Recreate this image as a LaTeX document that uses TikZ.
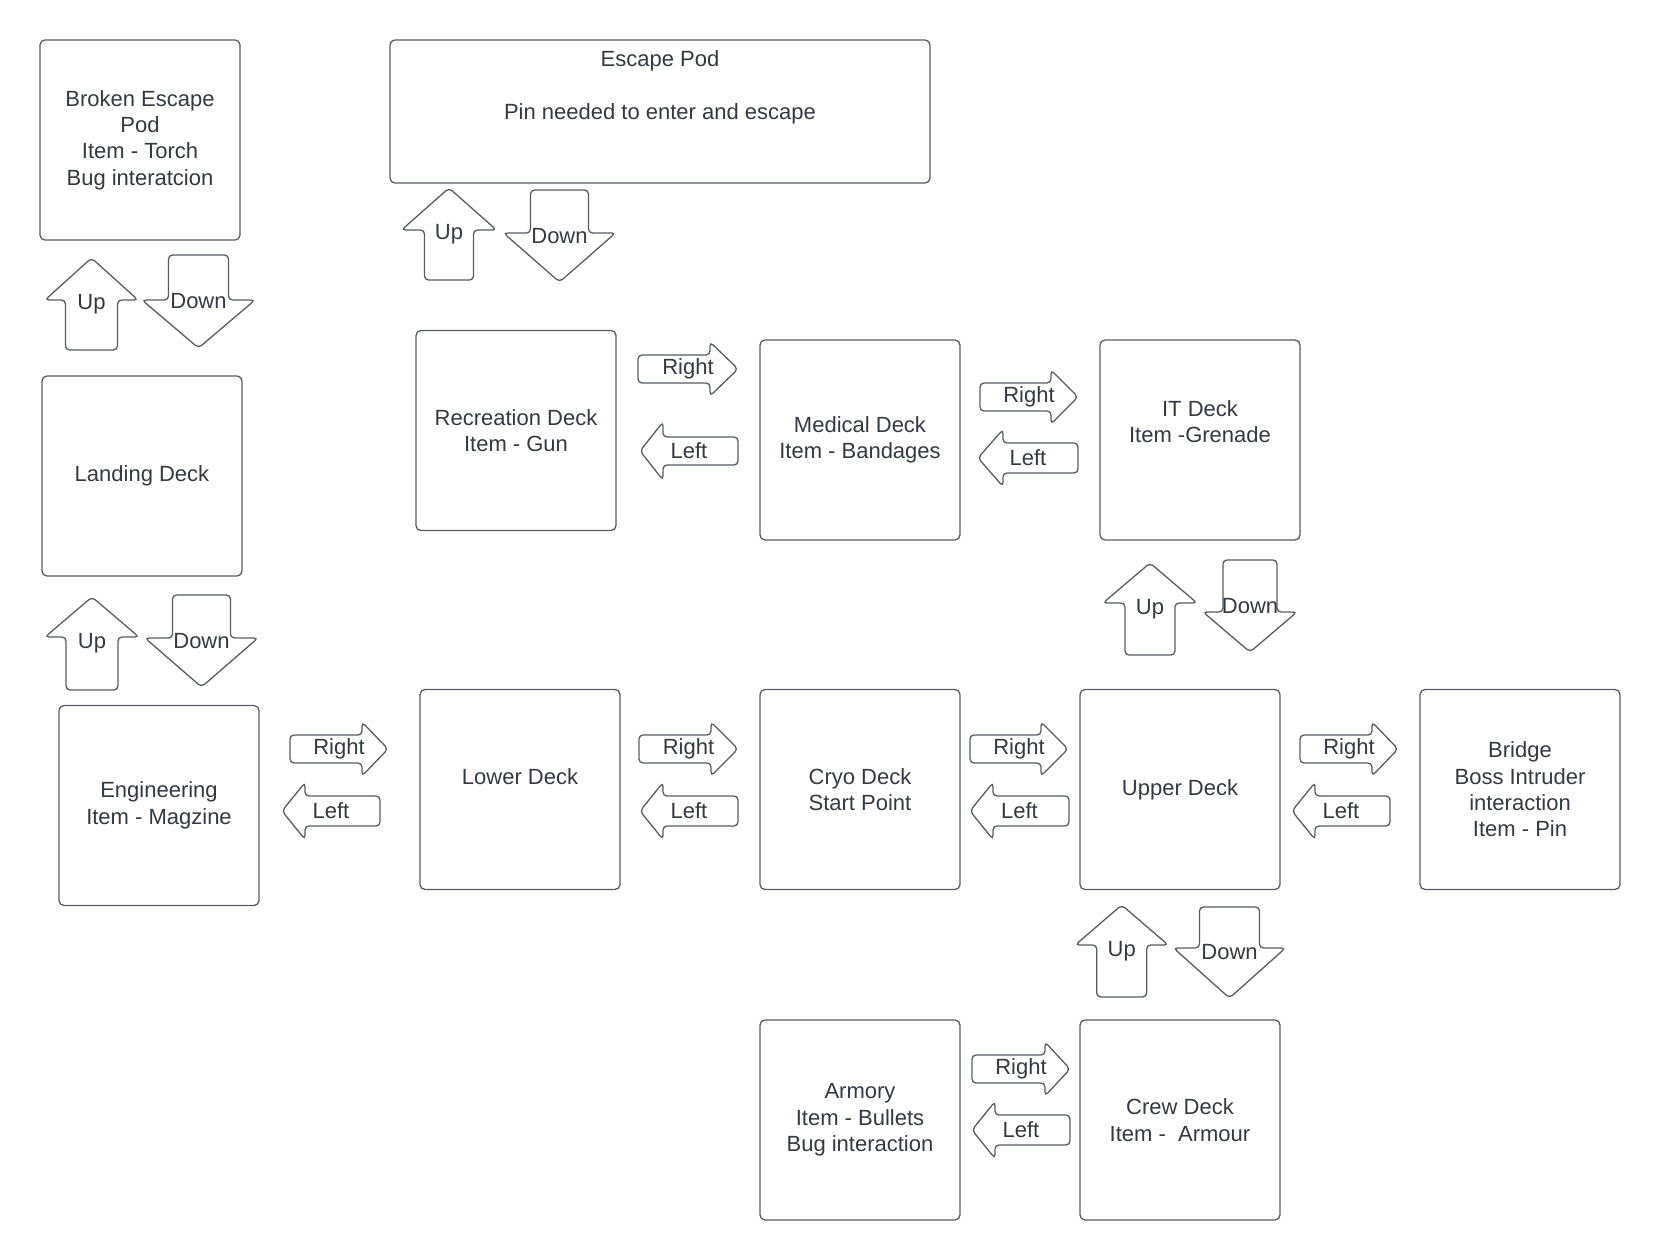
\documentclass[tikz,border=0pt]{standalone}
\usepackage{fontspec}
\setmainfont{Liberation Sans}

\definecolor{inkline}{RGB}{88,93,99}
\definecolor{inktext}{RGB}{52,58,66}

\tikzset{
  deck/.style={draw=inkline, line width=1.3pt, rounded corners=5pt,
    minimum width=200pt, minimum height=200pt, inner sep=0pt,
    align=center, text=inktext, font=\fontsize{22}{26.4}\selectfont},
  arrowshape/.style={draw=inkline, line width=1.3pt, rounded corners=4pt},
  arrowlabel/.style={inner sep=0pt, text=inktext, font=\fontsize{22}{26.4}\selectfont},
}

% Vertical block arrow: name, centre x, tail y, head-base y, tip y,
% head half-width, shaft half-width, label
\newcommand\ArrV[8]{%
  \draw[arrowshape] ({#2-#7},{#3}) -- ({#2-#7},{#4}) -- ({#2-#6},{#4}) -- ({#2},{#5})
    -- ({#2+#6},{#4}) -- ({#2+#7},{#4}) -- ({#2+#7},{#3}) -- cycle;
  \node[arrowlabel] (#1) at ({#2},{(#3+#5)/2}) {#8};}

% Horizontal block arrow: name, centre y, tail x, head-base x, tip x,
% head half-height, shaft half-height, label
\newcommand\ArrH[8]{%
  \draw[arrowshape] ({#3},{#2-#7}) -- ({#4},{#2-#7}) -- ({#4},{#2-#6}) -- ({#5},{#2})
    -- ({#4},{#2+#6}) -- ({#4},{#2+#7}) -- ({#3},{#2+#7}) -- cycle;
  \node[arrowlabel] (#1) at ({(#3+#5)/2},{#2}) {#8};}

\begin{document}
\begin{tikzpicture}[x=1pt, y=-1pt]
\useasboundingbox[fill=white] (0,0) rectangle (1660,1260);

% Decks
\node[deck] (broken) at (140,140) {Broken Escape\\Pod\\Item - Torch\\Bug interatcion};
\node[deck, minimum width=540pt, minimum height=143pt] (escape) at (660,111.5)
  {Escape Pod\\~\\Pin needed to enter and escape\\~\\~};
\node[deck] (landing) at (142,476) {Landing Deck};
\node[deck] (recreation) at (516,430.5) {Recreation Deck\\Item - Gun};
\node[deck] (medical) at (860,440) {Medical Deck\\Item - Bandages};
\node[deck] (it) at (1200,440) {IT Deck\\Item -Grenade\\[10pt]~};
\node[deck] (engineering) at (159,805.5) {Engineering\\Item - Magzine};
\node[deck] (lower) at (520,789.5) {Lower Deck\\~};
\node[deck] (cryo) at (860,789.5) {Cryo Deck\\Start Point};
\node[deck] (upper) at (1180,789.5) {Upper Deck};
\node[deck] (bridge) at (1520,789.5) {Bridge\\Boss Intruder\\interaction\\Item - Pin};
\node[deck] (armory) at (860,1120) {Armory\\Item - Bullets\\Bug interaction};
\node[deck] (crew) at (1180,1120) {Crew Deck\\Item -\ \ Armour};

% Up / Down moves
\ArrV{brokenup}{91.5}{350}{300}{258}{46.5}{26}{Up}
\ArrV{brokendown}{198.5}{255}{300}{348}{56.5}{30}{Down}
\ArrV{landingup}{92}{690}{637}{597}{47}{26}{Up}
\ArrV{landingdown}{201.5}{595}{638}{687}{56.5}{29}{Down}
\ArrV{escapeup}{449}{280}{230}{188}{47.5}{24.5}{Up}
\ArrV{escapedown}{559.5}{190}{233}{282}{56}{29}{Down}
\ArrV{itup}{1150}{655}{603}{563}{47}{25}{Up}
\ArrV{itdown}{1250}{560}{612}{652}{47}{27}{Down}
\ArrV{crewup}{1121.7}{997}{945}{905}{46.5}{25}{Up}
\ArrV{crewdown}{1229.5}{907}{948}{998}{56}{30}{Down}

% Left / Right moves
\ArrH{recright}{369}{638}{710}{738}{27}{14}{Right}
\ArrH{recleft}{451}{738}{663}{640}{29}{14}{Left}
\ArrH{medright}{397}{980}{1051}{1078}{27}{14}{Right}
\ArrH{medleft}{458}{1078}{1003}{978}{28.5}{15}{Left}
\ArrH{engright}{749}{290}{362}{388}{27}{14}{Right}
\ArrH{engleft}{811}{380}{305}{282}{28.5}{15}{Left}
\ArrH{lowerright}{749}{639}{711}{738}{27}{14}{Right}
\ArrH{lowerleft}{811}{738}{663}{640}{28.5}{15}{Left}
\ArrH{cryoright}{749}{970}{1041}{1068}{27}{14}{Right}
\ArrH{cryoleft}{811}{1069}{993}{970}{28.5}{15}{Left}
\ArrH{upperright}{749}{1300}{1372}{1398}{27}{14}{Right}
\ArrH{upperleft}{811}{1390}{1315}{1292}{28.5}{15}{Left}
\ArrH{armoryright}{1069}{972}{1045}{1070}{27}{14}{Right}
\ArrH{armoryleft}{1130}{1070}{995}{972}{28.5}{15}{Left}
\end{tikzpicture}
\end{document}
